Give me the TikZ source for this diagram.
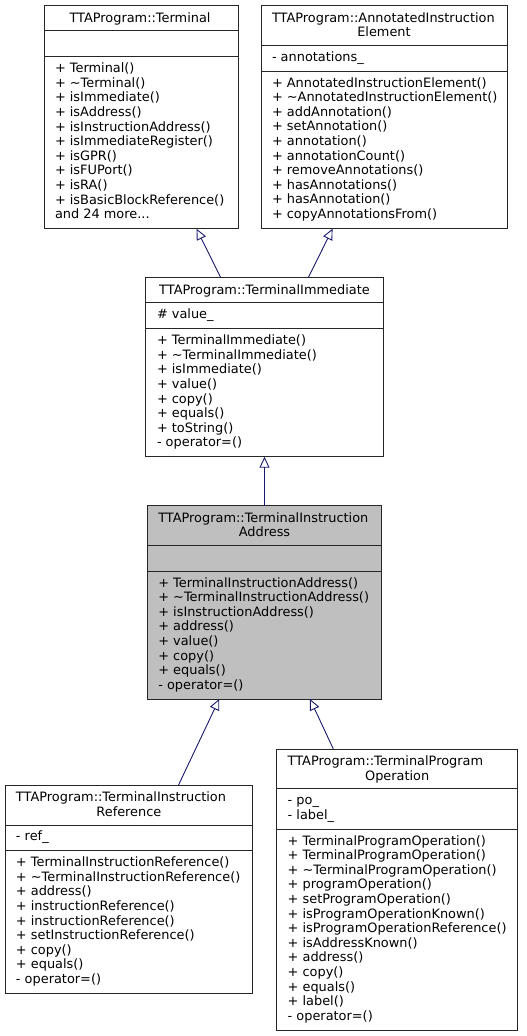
\documentclass[tikz,border=0pt]{standalone}
\usepackage{fontspec}
\setmainfont{DejaVu Sans}
\usetikzlibrary{arrows.meta,calc}
\definecolor{edgeblue}{HTML}{191970}
\definecolor{hilite}{HTML}{BFBFBF}
\newcommand\classbox[8]{%
  \pgfmathsetmacro\cbW{#4-#2}\pgfmathsetmacro\cbH{#5-#3}%
  \node[clsbox,#8,minimum width=\cbW pt,minimum height=\cbH pt,anchor=north west] (#1) at (#2,#3) {};
  \draw[sepline] ($(#1.north west)+(0,#6)$) -- ($(#1.north east)+(0,#6)$);
  \draw[sepline] ($(#1.north west)+(0,#7)$) -- ($(#1.north east)+(0,#7)$);
}
\tikzset{
  clsbox/.style={draw=black!85,line width=1pt,inner sep=0,outer sep=0},
  sepline/.style={draw=black!85,line width=1pt},
  txt/.style={anchor=base west,inner sep=0,outer sep=0,font=\fontsize{12.9}{14.6}\selectfont},
  ttl/.style={anchor=base,inner sep=0,outer sep=0,font=\fontsize{12.9}{14.6}\selectfont},
  inh/.style={draw=edgeblue,line width=0.9pt,-{Triangle[open,length=11pt,width=10pt,line width=0.9pt]}}
}
\begin{document}
\begin{tikzpicture}[x=1pt,y=-1pt]
\useasboundingbox (0,0) rectangle (527,1036);
% ---------- Terminal ----------
\classbox{ter}{44}{5.7}{238}{228.7}{25}{51}{fill=white}
\node[ttl] (terT) at (140,22.3) {TTAProgram::Terminal};
\foreach \t [count=\i from 0] in {+ Terminal(),+ \textasciitilde Terminal(),+ isImmediate(),+ isAddress(),+ isInstructionAddress(),+ isImmediateRegister(),+ isGPR(),+ isFUPort(),+ isRA(),+ isBasicBlockReference()}
  \node[txt] (terM\i) at (55,{56.7+16+14.6*\i}) {\t};
\node[txt] (terMore) at (55,{56.7+16+14.6*10}) {and 24 more...};
% ---------- AnnotatedInstructionElement ----------
\classbox{aie}{261}{5.7}{507}{228.7}{40}{65.3}{fill=white}
\node[txt] (aieT1) at (272,22.3) {TTAProgram::AnnotatedInstruction};
\node[ttl] (aieT2) at (384,36.9) {Element};
\node[txt] (aieA0) at (272,{45.7+15.9}) {- annotations\_};
\foreach \t [count=\i from 0] in {+ AnnotatedInstructionElement(),+ \textasciitilde AnnotatedInstructionElement(),+ addAnnotation(),+ setAnnotation(),+ annotation(),+ annotationCount(),+ removeAnnotations(),+ hasAnnotations(),+ hasAnnotation(),+ copyAnnotationsFrom()}
  \node[txt] (aieM\i) at (272,{71+16+14.6*\i}) {\t};
% ---------- TerminalImmediate ----------
\classbox{ti}{145.7}{277.7}{383.3}{456.7}{25}{51}{fill=white}
\node[ttl] (tiT) at (264.5,{277.7+16.6}) {TTAProgram::TerminalImmediate};
\node[txt] (tiA0) at (157,{302.7+15.9}) {\# value\_};
\foreach \t [count=\i from 0] in {+ TerminalImmediate(),+ \textasciitilde TerminalImmediate(),+ isImmediate(),+ value(),+ copy(),+ equals(),+ toString(),- operator=()}
  \node[txt] (tiM\i) at (157,{328.7+16+14.6*\i}) {\t};
% ---------- TerminalInstructionAddress ----------
\classbox{tia}{147.3}{505.7}{381.7}{699}{40}{65.3}{fill=hilite}
\node[txt] (tiaT1) at (158.3,{505.7+16.6}) {TTAProgram::TerminalInstruction};
\node[ttl] (tiaT2) at (264.5,{505.7+16.6+14.6}) {Address};
\foreach \t [count=\i from 0] in {+ TerminalInstructionAddress(),+ \textasciitilde TerminalInstructionAddress(),+ isInstructionAddress(),+ address(),+ value(),+ copy(),+ equals(),- operator=()}
  \node[txt] (tiaM\i) at (158.3,{571+16+14.6*\i}) {\t};
% ---------- TerminalInstructionReference ----------
\classbox{tir}{5}{785.3}{252.7}{993.3}{39.7}{65.4}{fill=white}
\node[txt] (tirT1) at (16,{785.3+16.6}) {TTAProgram::TerminalInstruction};
\node[ttl] (tirT2) at (128.9,{785.3+16.6+14.6}) {Reference};
\node[txt] (tirA0) at (16,{825+15.9}) {- ref\_};
\foreach \t [count=\i from 0] in {+ TerminalInstructionReference(),+ \textasciitilde TerminalInstructionReference(),+ address(),+ instructionReference(),+ instructionReference(),+ setInstructionReference(),+ copy(),+ equals(),- operator=()}
  \node[txt] (tirM\i) at (16,{850.7+16+14.6*\i}) {\t};
% ---------- TerminalProgramOperation ----------
\classbox{tpo}{276.7}{749}{517.7}{1030}{39.7}{80}{fill=white}
\node[txt] (tpoT1) at (287.7,{749+16.6}) {TTAProgram::TerminalProgram};
\node[ttl] (tpoT2) at (397.2,{749+16.6+14.6}) {Operation};
\node[txt] (tpoA0) at (287.7,{788.7+15.9}) {- po\_};
\node[txt] (tpoA1) at (287.7,{788.7+15.9+14.6}) {- label\_};
\foreach \t [count=\i from 0] in {+ TerminalProgramOperation(),+ TerminalProgramOperation(),+ \textasciitilde TerminalProgramOperation(),+ programOperation(),+ setProgramOperation(),+ isProgramOperationKnown(),+ isProgramOperationReference(),+ isAddressKnown(),+ address(),+ copy(),+ equals(),+ label(),- operator=()}
  \node[txt] (tpoM\i) at (287.7,{829+16+14.6*\i}) {\t};
% ---------- inheritance edges ----------
\draw[inh] ($(ti.north west)!0.316!(ti.north east)$) -- ($(ter.south west)!0.786!(ter.south east)$);
\draw[inh] ($(ti.north west)!0.684!(ti.north east)$) -- ($(aie.south west)!0.291!(aie.south east)$);
\draw[inh] (tia.north) -- (ti.south);
\draw[inh] ($(tir.north west)!0.700!(tir.north east)$) -- ($(tia.south west)!0.307!(tia.south east)$);
\draw[inh] ($(tpo.north west)!0.235!(tpo.north east)$) -- ($(tia.south west)!0.694!(tia.south east)$);
\end{tikzpicture}
\end{document}
